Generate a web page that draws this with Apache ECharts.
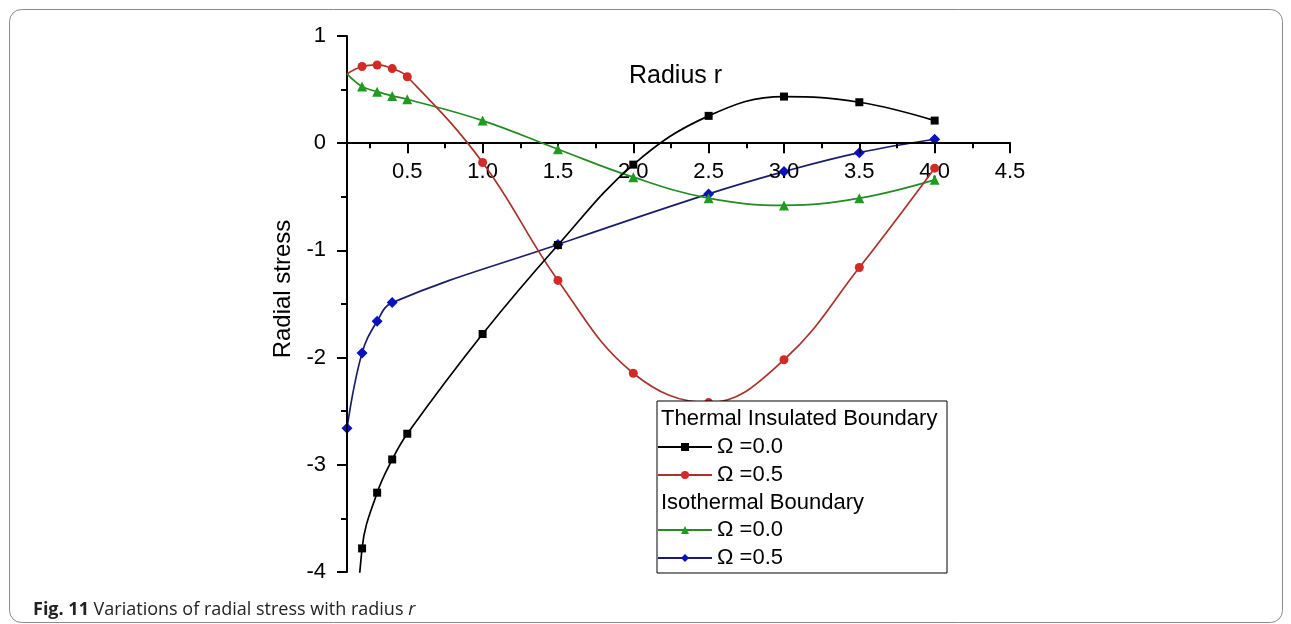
<!DOCTYPE html>
<html>
<head>
<meta charset="utf-8">
<script src="https://cdn.jsdelivr.net/npm/echarts@6/dist/echarts.min.js"></script>
<style>
  html, body { margin: 0; padding: 0; background: #fff; }
  #chart { width: 1291px; height: 624px; }
</style>
</head>
<body>
<div id="chart"></div>
<script>
// Radius values at which the stress was evaluated
const radius = [0.1, 0.2, 0.3, 0.4, 0.5, 1.0, 1.5, 2.0, 2.5, 3.0, 3.5, 4.0];
const radiusIsoRot = [0.1, 0.2, 0.3, 0.4, 1.5, 2.5, 3.0, 3.5, 4.0];

// Radial stress, thermally insulated boundary
const insulatedOmega00 = [-6.0, -3.78, -3.26, -2.95, -2.71, -1.78, -0.95, -0.20, 0.255, 0.435, 0.382, 0.211];
const insulatedOmega05 = [0.646, 0.715, 0.73, 0.696, 0.62, -0.18, -1.28, -2.146, -2.42, -2.02, -1.16, -0.233];
// Radial stress, isothermal boundary
const isothermalOmega00 = [0.646, 0.528, 0.481, 0.441, 0.41, 0.211, -0.056, -0.317, -0.513, -0.58, -0.513, -0.342];
const isothermalOmega05 = [-2.66, -1.956, -1.66, -1.487, -0.945, -0.473, -0.265, -0.088, 0.037];

// Axis ticks
const xMajorTicks = [0.5, 1.0, 1.5, 2.0, 2.5, 3.0, 3.5, 4.0, 4.5];
const xMinorTicks = [0.25, 0.75, 1.25, 1.75, 2.25, 2.75, 3.25, 3.75, 4.25];

// Legend texts
const groupTitles = ['Thermal Insulated Boundary', 'Isothermal Boundary'];
const omegaLabels = ['\u03A9 =0.0', '\u03A9 =0.5'];

const FONT = "'Liberation Sans', Arial, sans-serif";

// Plot area in pixels; the r axis is drawn along the zero-stress line
const GRID = { left: 347, right: 281, top: 36, bottom: 52 };
const Y_MIN = -4, Y_MAX = 1;
const plotHeight = 624 - GRID.top - GRID.bottom;
const zeroFromTop = plotHeight * (Y_MAX - 0) / (Y_MAX - Y_MIN);
const zeroFromBottom = plotHeight - zeroFromTop;

function points(xs, ys, hideFirstSymbol) {
  return xs.map((x, i) => {
    const item = { value: [x, ys[i]] };
    if (hideFirstSymbol && i === 0) item.symbol = 'none';
    return item;
  });
}

const seriesNames = [
  groupTitles[0] + ' ' + omegaLabels[0],
  groupTitles[0] + ' ' + omegaLabels[1],
  groupTitles[1] + ' ' + omegaLabels[0],
  groupTitles[1] + ' ' + omegaLabels[1]
];

function lineSeries(name, data, symbol, size, lineColor, markColor, z) {
  return {
    name: name,
    type: 'line',
    xAxisIndex: 0,
    data: data,
    smooth: 0.4,
    clip: true,
    symbol: symbol,
    symbolSize: size,
    showAllSymbol: true,
    z: z,
    lineStyle: { color: lineColor, width: 1.7 },
    itemStyle: { color: markColor, borderWidth: 0 },
    emphasis: { disabled: true }
  };
}

const chart = echarts.init(document.getElementById('chart'), null, { renderer: 'canvas' });

const legendCommon = {
  orient: 'vertical',
  left: 657,
  padding: 0,
  itemWidth: 54,
  itemHeight: 10,
  itemGap: 6,
  selectedMode: false,
  textStyle: { fontSize: 22, color: '#000', fontFamily: FONT },
  formatter: name => name.slice(name.indexOf('\u03A9')),
  z: 20
};

chart.setOption({
  animation: false,
  backgroundColor: '#fff',
  grid: Object.assign({ containLabel: false }, GRID),
  xAxis: [
    {
      // major ticks and labels, shifted up onto the zero line
      type: 'value', min: 0.1, max: 4.5, position: 'bottom',
      offset: -zeroFromBottom,
      axisLine: { show: true, onZero: false, lineStyle: { color: '#000', width: 2 } },
      axisTick: { show: true, customValues: xMajorTicks, length: 10, lineStyle: { color: '#000', width: 2 } },
      axisLabel: {
        show: true, customValues: xMajorTicks, margin: 18,
        fontSize: 22, color: '#000', fontFamily: FONT,
        formatter: v => Number(v).toFixed(1)
      },
      splitLine: { show: false },
      z: 3
    },
    {
      // minor ticks, shifted down onto the zero line
      type: 'value', min: 0.1, max: 4.5, position: 'top',
      offset: -zeroFromTop,
      axisLine: { show: true, onZero: false, lineStyle: { color: '#000', width: 2 } },
      axisTick: { show: true, inside: true, customValues: xMinorTicks, length: 5, lineStyle: { color: '#000', width: 2 } },
      axisLabel: { show: false },
      splitLine: { show: false },
      z: 3
    }
  ],
  yAxis: {
    type: 'value', min: Y_MIN, max: Y_MAX, interval: 1,
    axisLine: { show: true, onZero: false, lineStyle: { color: '#000', width: 2 } },
    axisTick: { show: true, length: 10, lineStyle: { color: '#000', width: 2 } },
    minorTick: { show: true, splitNumber: 2, length: 6, lineStyle: { color: '#000', width: 2 } },
    axisLabel: { fontSize: 22, color: '#000', margin: 21, fontFamily: FONT },
    splitLine: { show: false },
    minorSplitLine: { show: false },
    z: 3
  },
  legend: [
    Object.assign({ top: 436, data: [seriesNames[0], seriesNames[1]] }, legendCommon),
    Object.assign({ top: 519, data: [seriesNames[2], seriesNames[3]] }, legendCommon)
  ],
  series: [
    lineSeries(seriesNames[3], points(radiusIsoRot, isothermalOmega05, false), 'diamond', 11, '#1c1c6e', '#0a12c0', 2),
    lineSeries(seriesNames[2], points(radius, isothermalOmega00, true), 'triangle', 10, '#238b23', '#1f9c1f', 3),
    lineSeries(seriesNames[1], points(radius, insulatedOmega05, true), 'circle', 9, '#a8332b', '#d42a26', 4),
    lineSeries(seriesNames[0], points(radius, insulatedOmega00, false), 'rect', 8, '#000000', '#000000', 5)
  ],
  graphic: [
    {
      type: 'rect', z: 0, silent: true,
      shape: { x: 9.5, y: 9.5, width: 1273, height: 613, r: 12 },
      style: { fill: 'none', stroke: '#8a8a8a', lineWidth: 1 }
    },
    {
      type: 'rect', z: 15, silent: true,
      shape: { x: 657, y: 401, width: 290, height: 172 },
      style: { fill: '#fff', stroke: '#000', lineWidth: 1 }
    },
    {
      type: 'text', z: 21, silent: true, x: 661, y: 419,
      style: { text: groupTitles[0], fontSize: 22, fill: '#000', fontFamily: FONT, verticalAlign: 'middle' }
    },
    {
      type: 'text', z: 21, silent: true, x: 661, y: 503,
      style: { text: groupTitles[1], fontSize: 22, fill: '#000', fontFamily: FONT, verticalAlign: 'middle' }
    },
    {
      type: 'text', z: 21, silent: true, x: 629, y: 76,
      style: { text: 'Radius r', fontSize: 25, fill: '#000', fontFamily: FONT, verticalAlign: 'middle' }
    },
    {
      type: 'text', z: 21, silent: true, x: 283, y: 289, rotation: Math.PI / 2,
      style: { text: 'Radial stress', fontSize: 24, fill: '#000', fontFamily: FONT, align: 'center', verticalAlign: 'middle' }
    },
    {
      type: 'text', z: 21, silent: true, x: 33, y: 610,
      style: {
        text: '{b|Fig. 11} Variations of radial stress with radius {i|r}',
        fontSize: 18, fill: '#222', fontFamily: "'Open Sans', 'Noto Sans', sans-serif", verticalAlign: 'middle',
        rich: {
          b: { fontWeight: 'bold', fontSize: 18, fill: '#222', fontFamily: "'Open Sans', 'Noto Sans', sans-serif" },
          i: { fontStyle: 'italic', fontSize: 18, fill: '#222', fontFamily: "'Open Sans', 'Noto Sans', sans-serif" }
        }
      }
    }
  ]
});
</script>
</body>
</html>
